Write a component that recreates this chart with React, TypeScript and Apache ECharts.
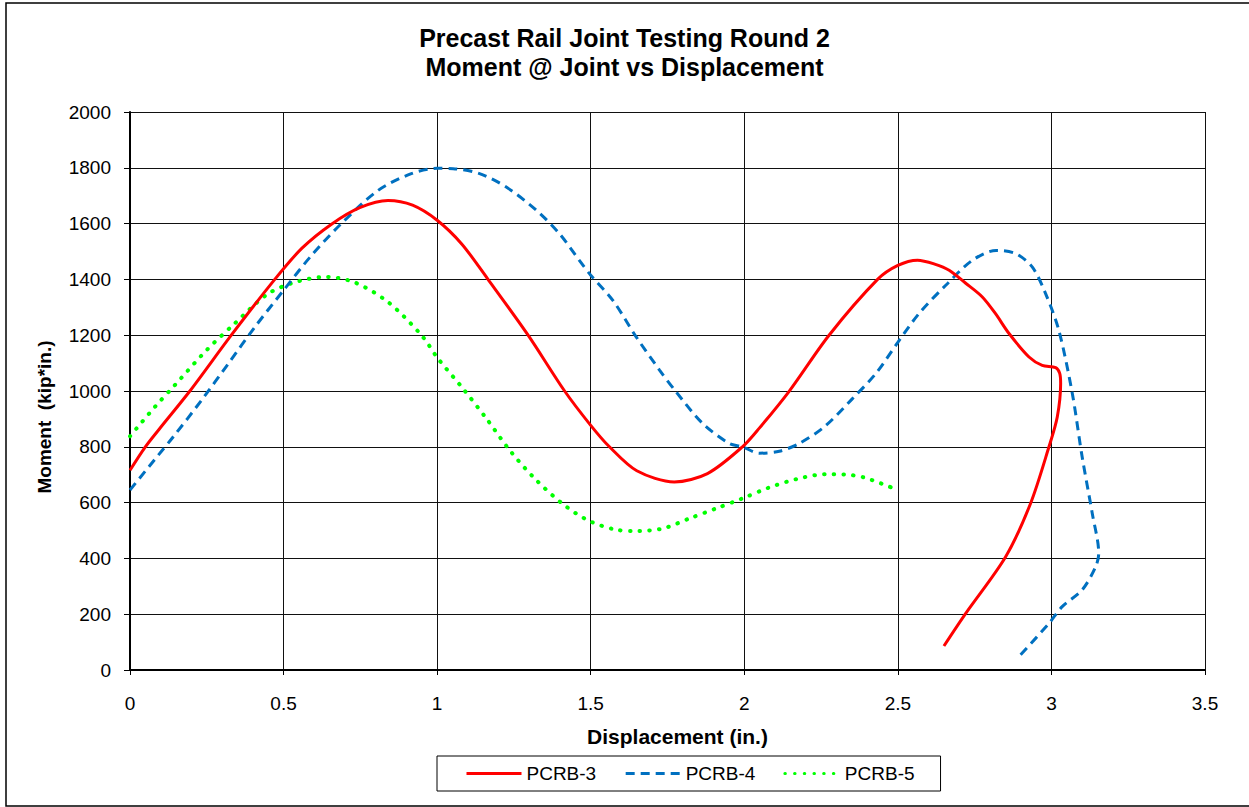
import React, { useEffect, useRef } from "react";
import * as echarts from "echarts";

const titleLines = ["Precast Rail Joint Testing Round 2", "Moment @ Joint vs Displacement"];
const xTicks = { min: 0, max: 3.5, interval: 0.5 };
const yTicks = { min: 0, max: 2000, interval: 200 };
const seriesNames = ["PCRB-3", "PCRB-4", "PCRB-5"];

const pcrb3: number[][] = [
  [0, 716], [0.05, 800], [0.1, 870], [0.195, 1000], [0.331, 1202], [0.472, 1401],
  [0.56, 1512], [0.656, 1598], [0.75, 1658], [0.84, 1683], [0.92, 1666], [1.0, 1612],
  [1.08, 1527], [1.165, 1401], [1.295, 1202], [1.415, 1000], [1.5, 877], [1.561, 800],
  [1.65, 714], [1.772, 674], [1.88, 704], [1.994, 800], [2.049, 867], [2.146, 999],
  [2.276, 1200], [2.434, 1400], [2.5, 1450], [2.564, 1469], [2.62, 1455], [2.667, 1433],
  [2.72, 1387], [2.775, 1337], [2.818, 1277], [2.862, 1206], [2.927, 1122], [2.97, 1092],
  [3.014, 1084], [3.027, 1063], [3.03, 1027], [3.019, 907], [2.992, 800], [2.932, 597],
  [2.851, 406], [2.721, 203], [2.65, 86],
];

const pcrb4: number[][] = [
  [0, 645], [0.092, 770], [0.141, 836], [0.233, 967], [0.32, 1098], [0.407, 1230],
  [0.5, 1361], [0.591, 1486], [0.688, 1600], [0.808, 1719], [0.916, 1779], [1.0, 1798],
  [1.052, 1797], [1.138, 1779], [1.225, 1731], [1.323, 1648], [1.398, 1564], [1.463, 1468],
  [1.5, 1415], [1.572, 1325], [1.648, 1194], [1.724, 1075], [1.778, 997], [1.864, 884],
  [1.951, 812], [1.994, 800], [2.049, 777], [2.114, 784], [2.179, 812], [2.26, 871],
  [2.35, 970], [2.43, 1065], [2.501, 1176], [2.569, 1278], [2.656, 1379], [2.742, 1468],
  [2.82, 1504], [2.884, 1492], [2.938, 1444], [2.981, 1349], [3.024, 1218], [3.068, 991],
  [3.1, 764], [3.133, 561], [3.154, 418], [3.144, 370], [3.1, 287], [3.035, 227],
  [2.992, 167], [2.894, 48],
];

const pcrb5: number[][] = [
  [0, 838], [0.081, 943], [0.146, 1021], [0.249, 1146], [0.341, 1242], [0.45, 1349],
  [0.547, 1393], [0.64, 1409], [0.732, 1389], [0.84, 1319], [0.949, 1200], [1.003, 1116],
  [1.084, 1009], [1.16, 902], [1.236, 788], [1.317, 687], [1.409, 595], [1.49, 537],
  [1.577, 504], [1.642, 498], [1.734, 507], [1.821, 543], [1.908, 579], [1.994, 615],
  [2.081, 654], [2.173, 685], [2.266, 702], [2.325, 701], [2.39, 690], [2.477, 655],
];

const FONT = "'Liberation Sans', Arial, sans-serif";

export default function App() {
  const ref = useRef<HTMLDivElement>(null);
  useEffect(() => {
    document.body.style.margin = "0";
    const chart = echarts.init(ref.current!, null, { renderer: "svg" });
    const lineBase = { type: "line", symbol: "none", showSymbol: false, smooth: 0.3 };
    chart.setOption({
      animation: false,
      backgroundColor: "#ffffff",
      textStyle: { fontFamily: FONT, color: "#000" },
      title: {
        text: titleLines.join("\n"),
        left: "center",
        top: 18,
        textStyle: { fontFamily: FONT, fontSize: 25, fontWeight: "bold", color: "#000", lineHeight: 29 },
      },
      grid: { left: 130, right: 44, top: 112, bottom: 137, containLabel: false },
      xAxis: {
        type: "value",
        min: xTicks.min,
        max: xTicks.max,
        interval: xTicks.interval,
        name: "Displacement (in.)",
        nameLocation: "middle",
        nameGap: 56,
        nameTextStyle: { fontFamily: FONT, fontSize: 21, fontWeight: "bold", color: "#000", padding: [0, 0, 0, 20] },
        axisLine: { onZero: false, lineStyle: { color: "#000", width: 2 } },
        axisTick: { show: true, inside: false, length: 5, lineStyle: { color: "#000", width: 1 } },
        axisLabel: { fontFamily: FONT, fontSize: 19, color: "#000", margin: 24, formatter: (v: number) => String(v) },
        splitLine: { show: true, lineStyle: { color: "#111", width: 1 } },
      },
      yAxis: {
        type: "value",
        min: yTicks.min,
        max: yTicks.max,
        interval: yTicks.interval,
        name: "Moment  (kip*in.)",
        nameLocation: "middle",
        nameGap: 76,
        nameTextStyle: { fontFamily: FONT, fontSize: 19, fontWeight: "bold", color: "#000", padding: [0, 52, 0, 0] },
        axisLine: { show: true, lineStyle: { color: "#000", width: 2 } },
        axisTick: { show: true, inside: false, length: 6, lineStyle: { color: "#000", width: 1 } },
        axisLabel: { fontFamily: FONT, fontSize: 19, color: "#000", margin: 19, formatter: (v: number) => String(v) },
        splitLine: { show: true, lineStyle: { color: "#111", width: 1 } },
      },
      legend: {
        left: 437,
        top: 756,
        orient: "horizontal",
        padding: [8, 26, 8, 28],
        itemGap: 28,
        itemWidth: 55,
        itemHeight: 14,
        borderColor: "#000",
        borderWidth: 1,
        itemStyle: { opacity: 0 },
        lineStyle: { width: 3 },
        textStyle: { fontFamily: FONT, fontSize: 19, color: "#000" },
        data: seriesNames,
      },
      graphic: [
        {
          type: "rect",
          shape: { x: 6, y: 3, width: 1262, height: 803 },
          style: { fill: "none", stroke: "#000", lineWidth: 1.5 },
          silent: true,
          z: -1,
        },
      ],
      series: [
        {
          ...lineBase,
          name: seriesNames[0],
          data: pcrb3,
          lineStyle: { color: "#ff0000", width: 3, type: "solid" },
          itemStyle: { color: "#ff0000" },
          z: 3,
        },
        {
          ...lineBase,
          name: seriesNames[1],
          data: pcrb4,
          lineStyle: { color: "#0070c0", width: 3, type: [9, 6] },
          itemStyle: { color: "#0070c0" },
          z: 2,
        },
        {
          ...lineBase,
          name: seriesNames[2],
          data: pcrb5,
          lineStyle: { color: "#00ff00", width: 4, type: [0.5, 9.2], cap: "round" },
          itemStyle: { color: "#00ff00" },
          z: 1,
        },
      ],
    });
    return () => chart.dispose();
  }, []);
  return <div ref={ref} style={{ width: 1249, height: 807 }} />;
}
